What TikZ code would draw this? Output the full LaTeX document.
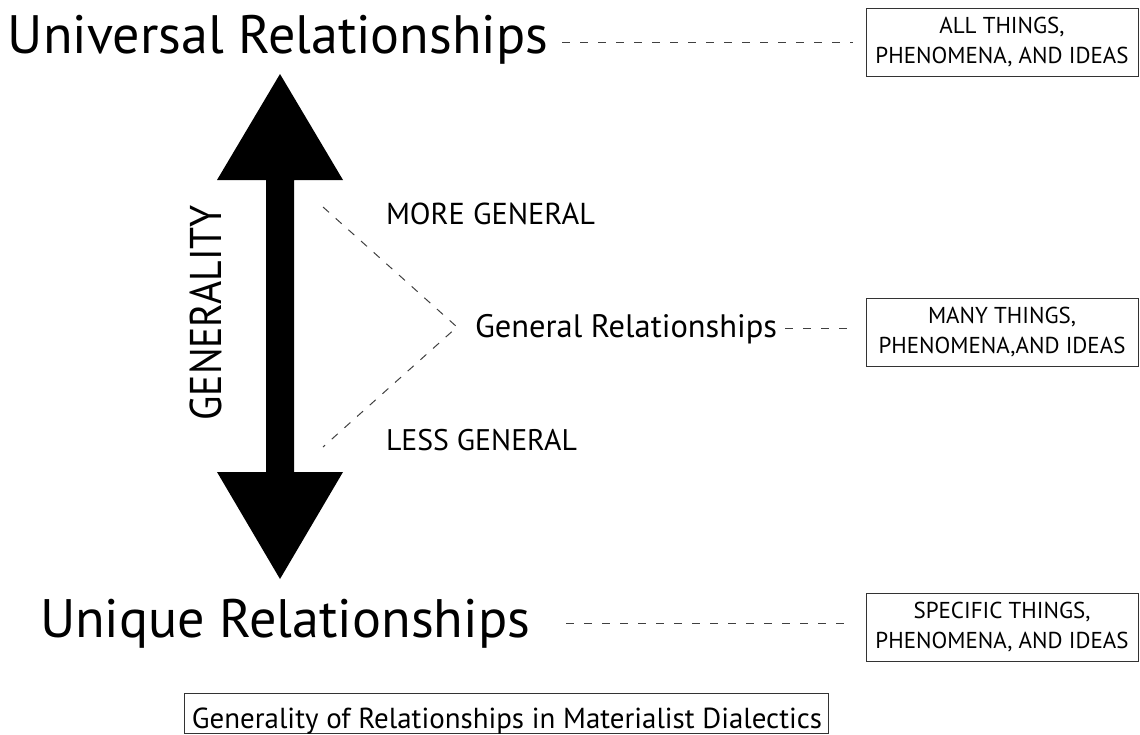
\documentclass[tikz,border=0pt]{standalone}
\usepackage{fontspec}
\setmainfont{PT Sans}
\usepackage{graphicx}
\usetikzlibrary{calc}
% scale a piece of text to a given width
\newcommand{\fitw}[2]{\resizebox{#1}{!}{#2}}

\begin{document}
\begin{tikzpicture}[x=1pt,y=-1pt,
  every node/.style={inner sep=0pt, outer sep=0pt},
  heading/.style={anchor=base west},
  notebox/.style={draw=black!80, line width=0.9pt, align=center,
    minimum width=272pt, minimum height=68pt,
    font=\fontsize{23}{30}\selectfont},
  link/.style={draw=black!75, line width=1pt, dash pattern=on 8pt off 10pt},
  bigarrow/.style={fill=black}
]
\useasboundingbox (0,0) rectangle (1140,734);

% headings
\node[heading] (univ) at (8,53) {\fitw{540pt}{Universal Relationships}};
\node[heading] (uniq) at (40,637) {\fitw{490pt}{Unique Relationships}};
\node[heading] (gen)  at (475,337) {\fitw{302pt}{General Relationships}};
\node[heading] (more) at (386,224) {\fitw{209pt}{MORE GENERAL}};
\node[heading] (less) at (386,450) {\fitw{191pt}{LESS GENERAL}};

% side boxes
\node[notebox] (all)  at (1002,42)  {ALL THINGS,\\PHENOMENA, AND IDEAS};
\node[notebox] (many) at (1002,332) {MANY THINGS,\\PHENOMENA,AND IDEAS};
\node[notebox] (spec) at (1002,627) {SPECIFIC THINGS,\\PHENOMENA, AND IDEAS};

% double-headed generality arrow
\fill[bigarrow] (280,74) -- (343,180) -- (294,180) -- (294,472) -- (343,472)
  -- (280,579) -- (217,472) -- (266,472) -- (266,180) -- (217,180) -- cycle;
\node[rotate=90] (genl) at (206,313) {\scalebox{1}[1.12]{\fitw{215pt}{GENERALITY}}};

% dashed leaders to the boxes
\draw[link] ([xshift=14pt]univ.east |- all.west) -- ([xshift=-13pt]all.west);
\draw[link] ([xshift=8pt]gen.east) -- ([xshift=-9pt]many.west |- gen.east);
\draw[link] ([xshift=36pt]uniq.east) -- ([xshift=-12pt]spec.west |- uniq.east);

% converging dashed lines
\coordinate (vtop) at (323,207);
\coordinate (vtip) at (457,327);
\coordinate (vbot) at (323,447);
\draw[link, dash pattern=on 8pt off 9pt] (vtop) -- (vtip) -- (vbot);

% caption
\node[draw=black!80, line width=0.9pt, anchor=north west,
  minimum width=644pt, minimum height=40pt] (capbox) at (184,693) {};
\node[anchor=base] (captxt) at (507,728) {\fitw{630pt}{Generality of Relationships in Materialist Dialectics}};
\end{tikzpicture}
\end{document}
